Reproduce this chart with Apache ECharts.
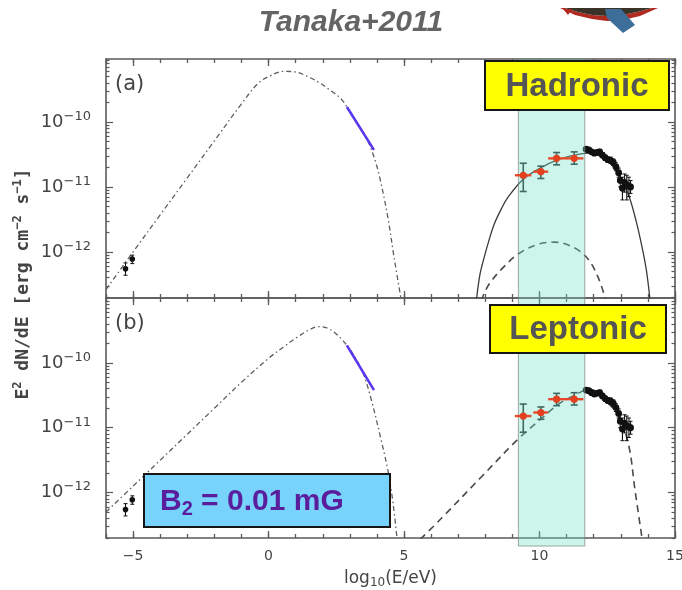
<!DOCTYPE html>
<html><head><meta charset="utf-8">
<script src="https://cdn.jsdelivr.net/npm/echarts@6/dist/echarts.min.js"></script>
<style>html,body{margin:0;padding:0;background:#fff}#c{width:682px;height:590px}</style>
</head><body><div id="c"></div>
<script>
// ---------------- DATA (x = log10(E/eV), y = log10(E^2 dN/dE [erg cm^-2 s^-1])) ----------------
const xMajorTicks = [-5, 0, 5, 10, 15];
const xTickLabels = ['−5', '0', '5', '10', '15'];
const yDecadeTicks = [-12, -11, -10];
const bandRange = [9.22, 11.67];

// panel (a) hadronic
const synchA = [[-6,-12.58],[-5,-12.0],[-4,-11.43],[-3,-10.86],[-2,-10.29],[-1,-9.72],[-0.4,-9.41],[0,-9.3],[0.56,-9.22],[1.0,-9.23],[1.44,-9.3],[1.9,-9.4],[2.3,-9.52],[2.67,-9.64],[3.0,-9.84],[3.35,-10.07],[3.67,-10.3],[3.9,-10.55],[4.1,-10.85],[4.4,-11.46],[4.63,-12.08],[4.9,-12.75]];
const xrayA = [[2.89,-9.77],[3.89,-10.43]];
const pionA = [[7.67,-12.75],[7.8,-12.35],[7.96,-12.08],[8.15,-11.8],[8.33,-11.57],[8.6,-11.33],[8.85,-11.15],[9.4,-10.88],[10.07,-10.7],[10.69,-10.58],[11.3,-10.51],[11.8,-10.48],[12.2,-10.52],[12.6,-10.63],[13.0,-10.86],[13.3,-11.14],[13.55,-11.5],[13.78,-11.92],[13.95,-12.3],[14.08,-12.75]];
const icA = [[7.85,-12.75],[8.0,-12.6],[8.2,-12.46],[8.59,-12.27],[9.22,-12.03],[9.96,-11.88],[10.56,-11.85],[11.3,-11.94],[11.81,-12.12],[12.19,-12.42],[12.45,-12.75]];

// panel (b) leptonic
const synchB = [[-6,-12.3],[-5,-11.9],[-4,-11.5],[-3,-11.1],[-2,-10.7],[-1,-10.3],[0,-9.93],[0.6,-9.74],[1.07,-9.6],[1.5,-9.49],[1.85,-9.44],[2.2,-9.47],[2.54,-9.57],[2.89,-9.73],[3.2,-9.92],[3.5,-10.17],[3.78,-10.55],[4.15,-11.18],[4.4,-11.65],[4.59,-12.15],[4.75,-12.75]];
const xrayB = [[2.89,-9.73],[3.89,-10.42]];
const icB = [[5.6,-12.72],[6.37,-12.4],[7.85,-11.76],[9.22,-11.17],[10.07,-10.86],[10.69,-10.64],[11.3,-10.5],[11.8,-10.41],[12.1,-10.44],[12.4,-10.56],[12.93,-10.83],[13.3,-11.29],[13.52,-11.95],[13.8,-12.75]];

// observed points: [x, y, yLow, yHigh, xLow, xHigh]
const fermiPts = [[9.40,-10.82,-11.07,-10.635,9.09,9.70],[10.05,-10.765,-10.87,-10.68,9.77,10.32],[10.63,-10.56,-10.66,-10.47,10.32,10.94],[11.28,-10.56,-10.65,-10.46,10.94,11.62]];
// [x, y, yLow, yHigh]
const tevPts = [[11.72,-10.42,-10.45,-10.39],[11.82,-10.43,-10.46,-10.40],[11.92,-10.46,-10.49,-10.43],[12.02,-10.48,-10.51,-10.45],[12.12,-10.47,-10.5,-10.44],[12.22,-10.46,-10.5,-10.42],[12.32,-10.51,-10.55,-10.47],[12.42,-10.55,-10.59,-10.51],[12.52,-10.58,-10.62,-10.54],[12.62,-10.59,-10.64,-10.54],[12.72,-10.62,-10.67,-10.57],[12.82,-10.69,-10.75,-10.63],[12.92,-10.78,-10.85,-10.71],[12.98,-10.9,-11.0,-10.8],[13.06,-11.02,-11.2,-10.85],[13.14,-10.93,-11.08,-10.8],[13.22,-10.97,-11.2,-10.82],[13.3,-10.99,-11.15,-10.85],[13.36,-11.0,-11.1,-10.9]];
const radioPts = [[-5.28,-12.26,-12.36,-12.17],[-5.03,-12.11,-12.18,-12.05]];

// ---------------- CHART ----------------
const X_MIN = -6, X_MAX = 15;
const yRanges = [[-12.71, -9.03], [-12.70, -9.0]];
const frame = '#5a5a5a';
const xMinor = []; for (let v = X_MIN; v <= X_MAX; v++) xMinor.push(v);
const yMinor = []; for (let d = -13; d <= -9; d++) for (let k = 2; k <= 9; k++) yMinor.push(d + Math.log10(k));

const chart = echarts.init(document.getElementById('c'), null, {renderer: 'canvas'});

function xAxesFor(g, labels) {
  const base = {type: 'value', gridIndex: g, min: X_MIN, max: X_MAX, splitLine: {show: false}, silent: true};
  const tick = (vals, len) => ({show: true, inside: true, length: len, customValues: vals, lineStyle: {color: frame, width: 1.3}});
  const lineOn = {show: true, onZero: false, lineStyle: {color: frame, width: 1.6}};
  const lineOff = {show: false, onZero: false};
  const main = Object.assign({}, base, {position: 'bottom', axisLine: lineOn, axisTick: tick(xMajorTicks, 7),
    axisLabel: labels ? {show: true, customValues: xMajorTicks, margin: 11, color: '#444', fontSize: 14, fontFamily: 'DejaVu Sans',
      formatter: v => xTickLabels[xMajorTicks.indexOf(v)] } : {show: false}});
  if (labels) {
    Object.assign(main, {name: '{m|log}{s|10}{m|(E/eV)}', nameLocation: 'middle', nameGap: 30,
      nameTextStyle: {rich: {m: {fontSize: 17, fontFamily: 'DejaVu Sans', color: '#444', lineHeight: 21},
        s: {fontSize: 12, fontFamily: 'DejaVu Sans', color: '#444', lineHeight: 12, verticalAlign: 'bottom'}}}});
  }
  return [
    main,
    Object.assign({}, base, {position: 'bottom', axisLine: lineOff, axisTick: tick(xMinor, 4), axisLabel: {show: false}}),
    Object.assign({}, base, {position: 'top', axisLine: lineOn, axisTick: tick(xMajorTicks, 7), axisLabel: {show: false}}),
    Object.assign({}, base, {position: 'top', axisLine: lineOff, axisTick: tick(xMinor, 4), axisLabel: {show: false}})
  ];
}
function yAxesFor(g) {
  const base = {type: 'value', gridIndex: g, min: yRanges[g][0], max: yRanges[g][1], splitLine: {show: false}, silent: true};
  const tick = (vals, len) => ({show: true, inside: true, length: len, customValues: vals, lineStyle: {color: frame, width: 1.2}});
  const lineOn = {show: true, onZero: false, lineStyle: {color: frame, width: 1.6}};
  const lineOff = {show: false, onZero: false};
  return [
    Object.assign({}, base, {position: 'left', axisLine: lineOn, axisTick: tick(yDecadeTicks, 7),
      axisLabel: {show: true, customValues: yDecadeTicks, margin: 15, formatter: v => '{b|10}{s|−' + Math.abs(v) + '}',
        rich: {b: {fontSize: 18, fontFamily: 'DejaVu Sans', color: '#444', lineHeight: 24},
               s: {fontSize: 13, fontFamily: 'DejaVu Sans', color: '#444', lineHeight: 13, verticalAlign: 'top'}}}}),
    Object.assign({}, base, {position: 'left', axisLine: lineOff, axisTick: tick(yMinor, 3.5), axisLabel: {show: false}}),
    Object.assign({}, base, {position: 'right', axisLine: lineOn, axisTick: tick(yDecadeTicks, 7), axisLabel: {show: false}}),
    Object.assign({}, base, {position: 'right', axisLine: lineOff, axisTick: tick(yMinor, 3.5), axisLabel: {show: false}})
  ];
}

function lineSeries(g, data, style) {
  return {type: 'line', xAxisIndex: g * 4, yAxisIndex: g * 4, data: data, symbol: 'none', smooth: 0.35,
    clip: true, z: 3, silent: true, lineStyle: style};
}
const dashDot = {color: '#5e5e5e', width: 1.3, type: [5, 3, 1.5, 3]};
const dashed = {color: '#4a4a4a', width: 1.6, type: [7, 5]};
const solid = {color: '#3a3a3a', width: 1.3, type: 'solid'};
const blue = {color: '#5b38f0', width: 2.6, type: 'solid'};

function fermiSeries(g) {
  return {type: 'custom', xAxisIndex: g * 4, yAxisIndex: g * 4, data: fermiPts, z: 12, silent: true,
    renderItem: function (p, api) {
      const x = api.value(0), y = api.value(1);
      const c = api.coord([x, y]), lo = api.coord([x, api.value(2)]), hi = api.coord([x, api.value(3)]);
      const l = api.coord([api.value(4), y]), r = api.coord([api.value(5), y]);
      const st = {stroke: '#3d6a62', lineWidth: 1.6};
      return {type: 'group', children: [
        {type: 'line', shape: {x1: c[0], y1: lo[1], x2: c[0], y2: hi[1]}, style: st},
        {type: 'line', shape: {x1: c[0] - 3.5, y1: lo[1], x2: c[0] + 3.5, y2: lo[1]}, style: st},
        {type: 'line', shape: {x1: c[0] - 3.5, y1: hi[1], x2: c[0] + 3.5, y2: hi[1]}, style: st},
        {type: 'line', shape: {x1: l[0], y1: c[1], x2: r[0], y2: c[1]}, style: {stroke: '#e8482a', lineWidth: 2.4}},
        {type: 'circle', shape: {cx: c[0], cy: c[1], r: 3.6}, style: {fill: '#e2401f'}}
      ]};
    }};
}
function pointSeries(g, data, rad) {
  return {type: 'custom', xAxisIndex: g * 4, yAxisIndex: g * 4, data: data, z: 5, silent: true,
    renderItem: function (p, api) {
      const x = api.value(0), y = api.value(1);
      const c = api.coord([x, y]), lo = api.coord([x, api.value(2)]), hi = api.coord([x, api.value(3)]);
      return {type: 'group', children: [
        {type: 'line', shape: {x1: c[0], y1: lo[1], x2: c[0], y2: hi[1]}, style: {stroke: '#111', lineWidth: 1.1}},
        {type: 'line', shape: {x1: c[0] - 2, y1: lo[1], x2: c[0] + 2, y2: lo[1]}, style: {stroke: '#111', lineWidth: 1}},
        {type: 'line', shape: {x1: c[0] - 2, y1: hi[1], x2: c[0] + 2, y2: hi[1]}, style: {stroke: '#111', lineWidth: 1}},
        {type: 'circle', shape: {cx: c[0], cy: c[1], r: rad}, style: {fill: '#111'}}
      ]};
    }};
}
function bandSeries(g, extra) {
  return {type: 'custom', xAxisIndex: g * 4, yAxisIndex: g * 4, data: [bandRange], z: 10, silent: true,
    renderItem: function (p, api) {
      const a = api.coord([api.value(0), yRanges[g][1]]), b = api.coord([api.value(1), yRanges[g][0]]);
      return {type: 'rect', shape: {x: a[0], y: a[1], width: b[0] - a[0], height: b[1] - a[1] + extra},
        style: {fill: 'rgba(110,226,200,0.34)', stroke: 'rgba(120,130,128,0.7)', lineWidth: 1}};
    }};
}

function box(x, y, w, h, fill, text, font, color) {
  return {type: 'group', z: 100, children: [
    {type: 'rect', z: 100, shape: {x: x, y: y, width: w, height: h}, style: {fill: fill, stroke: '#161616', lineWidth: 2}},
    {type: 'text', z: 101, x: x + w / 2, y: y + h / 2 + 1,
      style: {text: text, font: font, fill: color, align: 'center', verticalAlign: 'middle'}}
  ]};
}

const option = {
  animation: false,
  backgroundColor: '#ffffff',
  grid: [
    {left: 106, right: 7, top: 59, height: 239, outerBoundsMode: 'none', containLabel: false},
    {left: 106, right: 7, top: 298, height: 240, outerBoundsMode: 'none', containLabel: false}
  ],
  xAxis: xAxesFor(0, false).concat(xAxesFor(1, true)),
  yAxis: yAxesFor(0).concat(yAxesFor(1)),
  series: [
    lineSeries(0, synchA, dashDot),
    lineSeries(0, pionA, solid),
    lineSeries(0, icA, dashed),
    lineSeries(0, xrayA, blue),
    pointSeries(0, radioPts, 2.8),
    pointSeries(0, tevPts, 3.4),
    fermiSeries(0),
    bandSeries(0, 0),
    lineSeries(1, synchB, dashDot),
    lineSeries(1, icB, dashed),
    lineSeries(1, xrayB, blue),
    pointSeries(1, radioPts, 2.8),
    pointSeries(1, tevPts, 3.4),
    fermiSeries(1),
    bandSeries(1, 8)
  ],
  graphic: [
    {type: 'text', z: 100, x: 351, y: 23, style: {text: 'Tanaka+2011', font: 'italic bold 30px "Liberation Sans", Arial, sans-serif', fill: '#646464', align: 'center', verticalAlign: 'middle'}},
    // logo fragment (top right)
    {type: 'polygon', z: 100, shape: {points: [[560,8],[575,15],[592,19],[607,21],[623,20],[640,16],[658,8],[652,8],[637,12],[622,15],[607,16],[592,15],[578,12],[565,8]]}, style: {fill: '#b02a22'}},
    {type: 'polygon', z: 100, shape: {points: [[565,8],[578,12],[592,15],[607,16],[622,15],[637,12],[652,8]]}, style: {fill: '#3a3428'}},
    {type: 'polygon', z: 100, shape: {points: [[563,9],[572,9],[568,15]]}, style: {fill: '#b02a22'}},
    {type: 'polygon', z: 101, shape: {points: [[605,9],[621,9],[635,25],[623,33],[607,18]]}, style: {fill: '#3d6e9a'}},
    // y axis title
    {type: 'text', z: 100, x: 23, y: 284, rotation: Math.PI / 2,
      style: {text: '{m|E}{p|2}{m| dN/dE [erg cm}{p|−2}{m| s}{p|−1}{m|]}', align: 'center', verticalAlign: 'middle',
        rich: {m: {fontSize: 18, fontFamily: 'DejaVu Sans Mono', fontWeight: 'bold', fill: '#444', lineHeight: 22},
               p: {fontSize: 12, fontFamily: 'DejaVu Sans Mono', fontWeight: 'bold', fill: '#444', lineHeight: 12, verticalAlign: 'top'}}}},
    {type: 'text', z: 100, x: 115, y: 85, style: {text: '(a)', font: '21px "DejaVu Sans"', fill: '#444', align: 'left', verticalAlign: 'middle'}},
    {type: 'text', z: 100, x: 115, y: 324, style: {text: '(b)', font: '21px "DejaVu Sans"', fill: '#444', align: 'left', verticalAlign: 'middle'}},
    box(485, 61, 184, 49, '#ffff00', 'Hadronic', 'bold 33px "Liberation Sans", Arial, sans-serif', '#555555'),
    box(490, 305, 176, 48, '#ffff00', 'Leptonic', 'bold 33px "Liberation Sans", Arial, sans-serif', '#555555'),
    {type: 'group', z: 100, children: [
      {type: 'rect', z: 100, shape: {x: 144, y: 474, width: 246, height: 53}, style: {fill: '#77d3fb', stroke: '#161616', lineWidth: 2}},
      {type: 'text', z: 101, x: 160, y: 502, style: {text: '{a|B}{b|2}{a| = 0.01 mG}', align: 'left', verticalAlign: 'middle',
        rich: {a: {fontSize: 30, fontWeight: 'bold', fontFamily: '"Liberation Sans", Arial', fill: '#5a1e9c', lineHeight: 34},
               b: {fontSize: 20, fontWeight: 'bold', fontFamily: '"Liberation Sans", Arial', fill: '#5a1e9c', lineHeight: 22, verticalAlign: 'bottom'}}}}
    ]}
  ]
};
chart.setOption(option);
</script>
</body></html>
